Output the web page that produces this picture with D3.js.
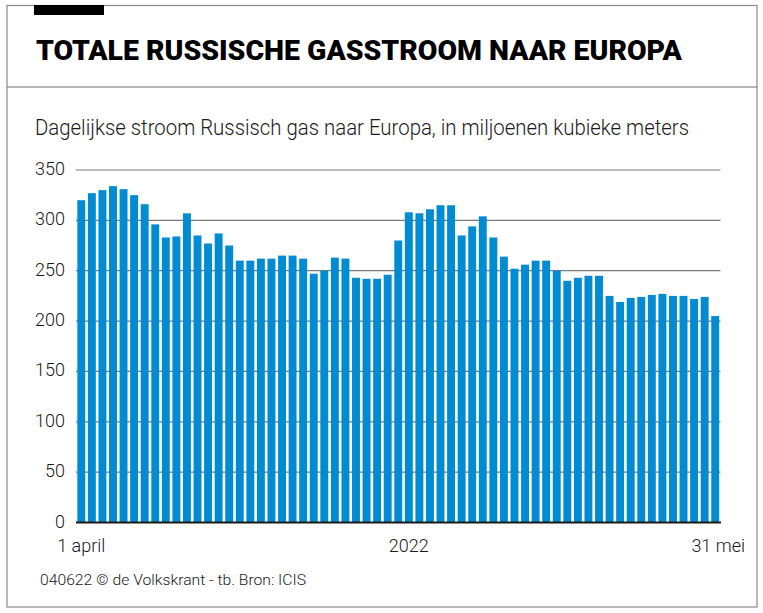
<!DOCTYPE html>
<html>
<head>
<meta charset="utf-8">
<script src="https://cdn.jsdelivr.net/npm/d3@7"></script>
<style>
  html, body { margin: 0; padding: 0; background: #fff; }
  svg { display: block; }
</style>
</head>
<body>
<svg id="chart" width="763" height="613"></svg>
<script>
// ---- data ----
const title = "TOTALE RUSSISCHE GASSTROOM NAAR EUROPA";
const subtitle = "Dagelijkse stroom Russisch gas naar Europa, in miljoenen kubieke meters";
const footer = "040622 \u00A9 de Volkskrant - tb. Bron: ICIS";
const startDay = "2022-04-01";
const endDay = "2022-05-31";
const values = [
  320, 327, 330, 334, 331, 325, 316, 296, 283, 284,
  307, 285, 277, 287, 275, 260, 260, 262, 262, 265,
  265, 262, 247, 250, 263, 262, 243, 242, 242, 246,
  280, 308, 307, 311, 315, 315, 285, 294, 304, 283,
  264, 252, 256, 260, 260, 250, 240, 243, 245, 245,
  225, 219, 223, 224, 226, 227, 225, 225, 222, 224,
  205
];
const yTicks = [0, 50, 100, 150, 200, 250, 300, 350];
const xLabels = [
  { index: 0, text: "1 april" },
  { index: 31, text: "2022" },
  { index: 60, text: "31 mei" }
];

// ---- build ----
const parse = d3.utcParse("%Y-%m-%d");
const days = d3.utcDay.range(parse(startDay), d3.utcDay.offset(parse(endDay), 1));
const data = days.map((d, i) => ({ day: d, value: values[i] }));

const svg = d3.select("#chart");
const font = "Roboto, 'Noto Sans', sans-serif";

// frame
svg.append("rect").attr("x", 7).attr("y", 5.5).attr("width", 750).attr("height", 601.5)
  .attr("fill", "none").attr("stroke", "#8a8a8a").attr("stroke-width", 1.2);
svg.append("line").attr("x1", 7).attr("x2", 757).attr("y1", 87).attr("y2", 87)
  .attr("stroke", "#707070").attr("stroke-width", 1.2);
svg.append("rect").attr("x", 34).attr("y", 5).attr("width", 70).attr("height", 10).attr("fill", "#000");

// title
svg.append("text").attr("x", 36).attr("y", 60)
  .attr("font-family", font).attr("font-weight", 900).attr("font-size", 28)
  .attr("fill", "#000").attr("textLength", 646).attr("lengthAdjust", "spacingAndGlyphs")
  .text(title);

svg.append("text").attr("x", 35).attr("y", 135)
  .attr("font-family", font).attr("font-weight", 300).attr("font-size", 22)
  .attr("fill", "#1a1a1a").attr("textLength", 654).attr("lengthAdjust", "spacingAndGlyphs")
  .text(subtitle);

// scales
const x = d3.scaleBand().domain(days).range([76, 720.5]).paddingInner(0.25).paddingOuter(0.125);
const y = d3.scaleLinear().domain([0, 350]).range([522.5, 170]);

// gridlines
svg.append("g").selectAll("line").data(yTicks.filter(t => t > 0)).join("line")
  .attr("x1", 76).attr("x2", 720.5)
  .attr("y1", d => y(d)).attr("y2", d => y(d))
  .attr("stroke", "#7a7a7a").attr("stroke-width", 1.2);

// y labels
svg.append("g").selectAll("text").data(yTicks).join("text")
  .attr("x", 65).attr("y", d => y(d) + 5)
  .attr("text-anchor", "end")
  .attr("font-family", font).attr("font-weight", 300).attr("font-size", 18)
  .attr("fill", "#1a1a1a")
  .text(d => d);

// bars
svg.append("g").selectAll("rect").data(data).join("rect")
  .attr("x", d => x(d.day))
  .attr("width", x.bandwidth())
  .attr("y", d => y(d.value))
  .attr("height", d => y(0) - y(d.value))
  .attr("fill", "#008bd2");

// baseline
svg.append("line").attr("x1", 76).attr("x2", 721).attr("y1", y(0)).attr("y2", y(0))
  .attr("stroke", "#1a1a1a").attr("stroke-width", 2);

// x labels
svg.append("g").selectAll("text").data(xLabels).join("text")
  .attr("x", d => x(days[d.index]) + x.bandwidth() / 2 + (d.index === 60 ? 3 : 0))
  .attr("y", 552)
  .attr("text-anchor", "middle")
  .attr("font-family", font).attr("font-weight", 300).attr("font-size", 18)
  .attr("fill", "#1a1a1a")
  .text(d => d.text);

// footer
svg.append("text").attr("x", 40).attr("y", 585)
  .attr("font-family", font).attr("font-weight", 300).attr("font-size", 15.5)
  .attr("fill", "#1a1a1a").attr("textLength", 266).attr("lengthAdjust", "spacingAndGlyphs")
  .text(footer);
</script>
</body>
</html>
